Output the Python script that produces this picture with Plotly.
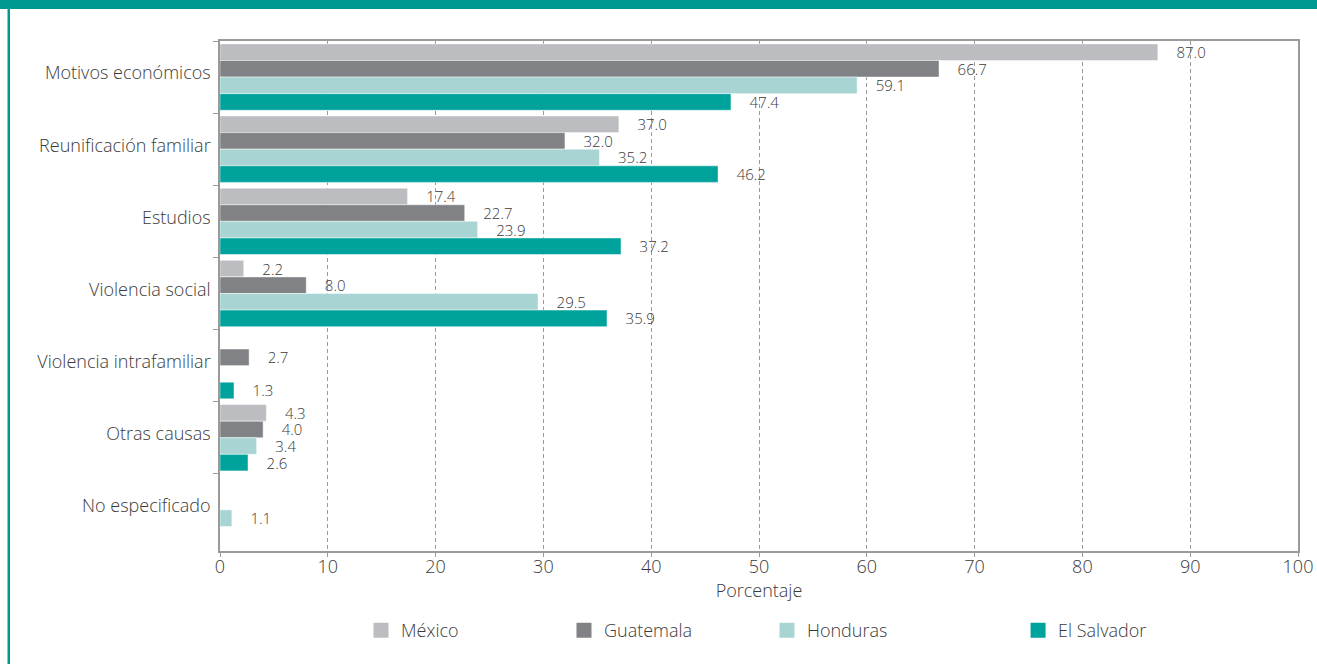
import plotly.graph_objects as go

# Motivos de migración por país de origen (porcentaje)
categorias = [
    "Motivos económicos",
    "Reunificación familiar",
    "Estudios",
    "Violencia social",
    "Violencia intrafamiliar",
    "Otras causas",
    "No especificado",
]
paises = ["México", "Guatemala", "Honduras", "El Salvador"]
mexico = [87.0, 37.0, 17.4, 2.2, None, 4.3, None]
guatemala = [66.7, 32.0, 22.7, 8.0, 2.7, 4.0, None]
honduras = [59.1, 35.2, 23.9, 29.5, None, 3.4, 1.1]
el_salvador = [47.4, 46.2, 37.2, 35.9, 1.3, 2.6, None]
x_ticks = [0, 10, 20, 30, 40, 50, 60, 70, 80, 90, 100]

series = [mexico, guatemala, honduras, el_salvador]
colores = ["#BCBDC0", "#818285", "#A8D5D3", "#00A39B"]
leyendas = ["legend", "legend2", "legend3", "legend4"]
leyenda_x = [0.1308, 0.3191, 0.5074, 0.7403]

FONT = "Open Sans"
TXT = "#3a3a3a"
GRIS = "#9a9a9a"
fuente = dict(family=FONT, size=18, color=TXT, weight=300)

fig = go.Figure()
for nombre, vals, color in zip(paises, series, colores):
    etiquetas = ["\u00a0\u00a0\u00a0\u00a0" + f"{v:.1f}" if v is not None else "" for v in vals]
    fig.add_trace(go.Bar(
        name=nombre,
        y=categorias,
        x=vals,
        orientation="h",
        marker=dict(color=color, line=dict(color="rgba(255,255,255,0.6)", width=0.8)),
        text=etiquetas,
        textposition="outside",
        textfont=dict(family=FONT, size=15, color=TXT, weight=300),
        constraintext="none",
        cliponaxis=False,
        showlegend=False,
        hoverinfo="x+y+name",
    ))

# Entradas de leyenda con muestra cuadrada
for nombre, color, leg in zip(paises, colores, leyendas):
    fig.add_trace(go.Scatter(
        name=nombre, x=[None], y=[None], mode="markers",
        marker=dict(symbol="square", size=15, color=color),
        legend=leg, showlegend=True, hoverinfo="skip",
    ))

L, R, T, B = 220, 19, 41, 113
W, H = 1317, 664
pw, ph = W - L - R, H - T - B


def px_x(p):
    return (p - L) / pw


def px_y(p):
    return (H - B - p) / ph


layout_legends = {}
for leg, lx in zip(leyendas, leyenda_x):
    layout_legends[leg] = dict(
        x=lx, y=-0.156, xanchor="left", yanchor="middle",
        orientation="h", bgcolor="rgba(0,0,0,0)", font=fuente,
    )

fig.update_layout(
    width=W, height=H,
    margin=dict(l=L, r=R, t=T, b=B, autoexpand=False),
    paper_bgcolor="white", plot_bgcolor="white",
    barmode="group", bargap=0.08, bargroupgap=0,
    font=fuente,
    showlegend=True,
    **layout_legends,
    shapes=[
        # franja superior
        dict(type="rect", xref="paper", yref="paper",
             x0=px_x(0), x1=px_x(W), y0=px_y(9), y1=px_y(-2),
             fillcolor="#009890", line=dict(width=0), layer="above"),
        # borde izquierdo
        dict(type="rect", xref="paper", yref="paper",
             x0=px_x(7.5), x1=px_x(10), y0=px_y(H + 2), y1=px_y(0),
             fillcolor="#009890", line=dict(width=0), layer="above"),
    ],
)

fig.update_xaxes(
    range=[0, 100], tickvals=x_ticks, ticktext=[str(t) for t in x_ticks],
    showgrid=True, gridcolor=GRIS, griddash="4px,3px", gridwidth=1,
    showline=True, linecolor=GRIS, linewidth=1.5, mirror=True,
    ticks="outside", ticklen=4, tickcolor=GRIS,
    tickfont=fuente, ticklabelstandoff=-5,
    title=dict(text="Porcentaje", standoff=0, font=fuente),
    zeroline=False, automargin=False,
)
fig.update_yaxes(
    autorange=False, range=[6.57, -0.5],
    categoryorder="array", categoryarray=categorias,
    showline=True, linecolor=GRIS, linewidth=1.5, mirror=True,
    ticks="outside", tickson="boundaries", ticklen=5, tickcolor=GRIS,
    tickfont=fuente,
    showgrid=False, ticklabelstandoff=4, ticklabelshift=4, automargin=False,
)

fig.write_html("out.html")
